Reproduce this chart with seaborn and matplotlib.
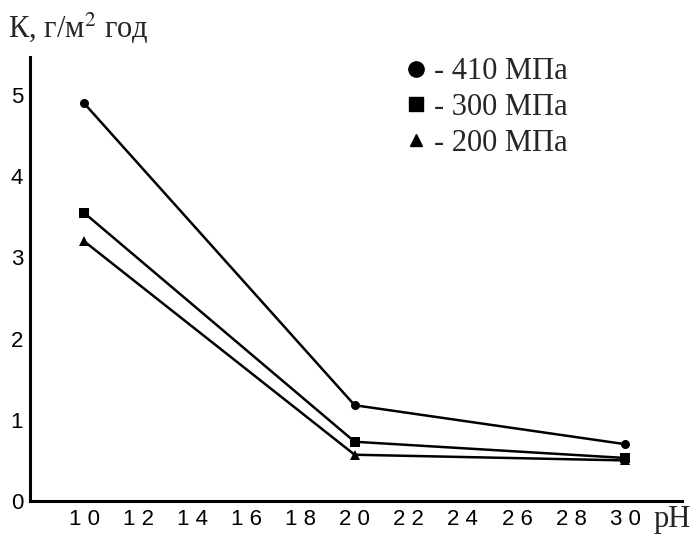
import matplotlib
matplotlib.use('Agg')
import matplotlib.pyplot as plt
from matplotlib.lines import Line2D
import seaborn as sns
import pandas as pd

ph = [10, 20, 30]
k_410 = [4.9, 1.18, 0.70]
k_300 = [3.55, 0.73, 0.53]
k_200 = [3.2, 0.57, 0.50]
series = ['410 МПа', '300 МПа', '200 МПа']
markers = ['o', 's', '^']
x_ticks = [10, 12, 14, 16, 18, 20, 22, 24, 26, 28, 30]
y_ticks = [0, 1, 2, 3, 4, 5]

df = pd.DataFrame({
    'pH': ph * 3,
    'K': k_410 + k_300 + k_200,
    'series': [s for s in series for _ in ph],
})

sns.set_style('white')
plt.rcParams['font.family'] = ['Liberation Sans', 'DejaVu Sans']

fig = plt.figure(figsize=(6.98, 5.42), dpi=100)
ax = fig.add_axes([30 / 698, 41 / 542, 652 / 698, 444 / 542])

sns.lineplot(data=df, x='pH', y='K', hue='series', style='series',
             palette=['black'] * 3, markers=dict(zip(series, markers)),
             dashes=False, linewidth=1.8, markersize=6.5, markeredgewidth=0,
             legend=False, ax=ax)

ax.set_xlim(8, 32.1)
ax.set_ylim(0, 5.47)
ax.set_xticks(x_ticks)
ax.set_xticklabels([' '.join(str(t)) for t in x_ticks], fontsize=16)
ax.set_yticks(y_ticks)
ax.set_yticklabels([str(t) for t in y_ticks], fontsize=16)
ax.tick_params(direction='in', length=5, width=1, pad=6, colors='black')
ax.tick_params(axis='y', pad=5)
ax.set_xlabel('')
ax.set_ylabel('')
for side in ['top', 'right']:
    ax.spines[side].set_visible(False)
for side in ['left', 'bottom']:
    ax.spines[side].set_linewidth(2.2)
    ax.spines[side].set_color('black')

serif = ['Liberation Serif', 'DejaVu Serif']
fig.text(8 / 698, 1 - 28 / 542, 'К, г/м$^2$ год', family=serif, fontsize=22,
         va='center', ha='left', math_fontfamily='stix')
fig.text(654 / 698, 1 - 520 / 542, 'pH', family=serif, fontsize=22,
         va='center', ha='left')

handles = [Line2D([], [], color='black', marker=m, linestyle='none',
                  markersize=s) for m, s in zip(markers, [11, 10, 8])]
ax.legend(handles, ['- ' + s for s in series], loc='upper left',
          bbox_to_anchor=(393 / 698, 1 - 42 / 542), bbox_transform=fig.transFigure,
          frameon=False, handlelength=0.5, handletextpad=0.35, labelspacing=0.22,
          borderpad=0, prop={'family': serif, 'size': 22})

fig.savefig('out.png', dpi=100)
